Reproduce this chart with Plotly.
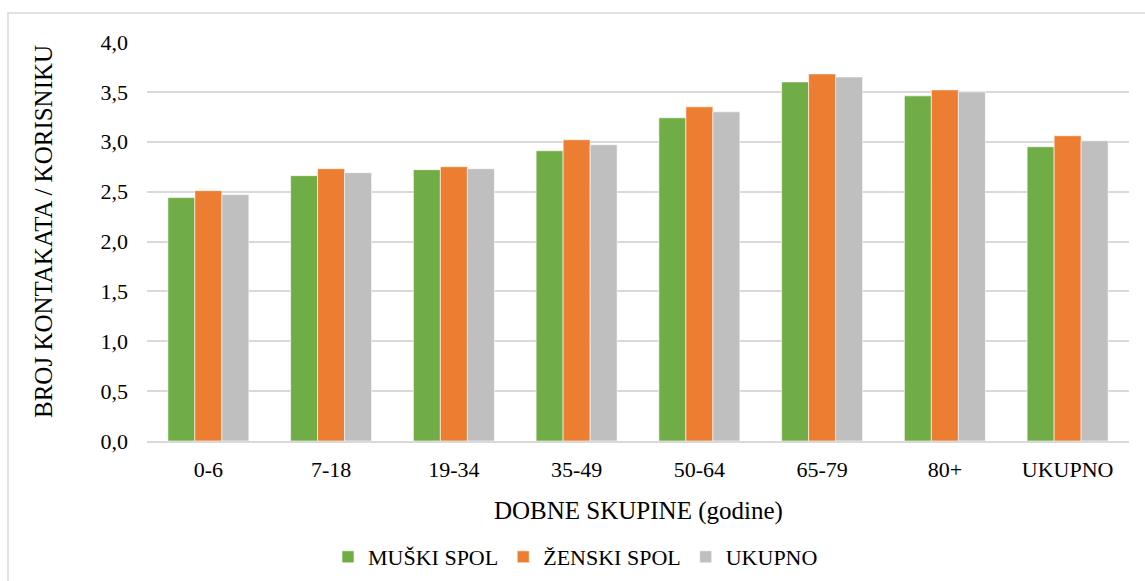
import plotly.graph_objects as go

categories = ["0-6", "7-18", "19-34", "35-49", "50-64", "65-79", "80+", "UKUPNO"]
muski = [2.44, 2.66, 2.72, 2.91, 3.24, 3.60, 3.46, 2.95]
zenski = [2.51, 2.73, 2.75, 3.02, 3.35, 3.68, 3.52, 3.06]
ukupno = [2.47, 2.69, 2.73, 2.97, 3.30, 3.65, 3.50, 3.01]
series_names = ["MUŠKI SPOL", "ŽENSKI SPOL", "UKUPNO"]
colors = ["#70AD47", "#ED7D31", "#BFBFBF"]

FONT = "Liberation Serif"
W, H = 1145, 581
L, R, T, B = 147, 16, 42, 140
pw, ph = W - L - R, H - T - B

fig = go.Figure()
for name, vals, col in zip(series_names, [muski, zenski, ukupno], colors):
    fig.add_trace(go.Bar(x=categories, y=vals, name=name, marker_color=col,
                         marker_line_color="rgba(255,255,255,0.6)", marker_line_width=1))

fig.update_layout(
    width=W, height=H, autosize=False,
    margin=dict(l=L, r=R, t=T, b=B),
    paper_bgcolor="white", plot_bgcolor="white",
    barmode="group", bargap=0.34, bargroupgap=0,
    separators=", ",
    font=dict(family=FONT, size=22, color="#000000"),
    showlegend=True,
    legend=dict(orientation="h", xref="container", x=328 / W, xanchor="left",
                yref="container", y=1 - 557 / H, yanchor="middle",
                font=dict(family=FONT, size=22), itemwidth=30,
                traceorder="normal"),
    xaxis=dict(showline=True, linecolor="#D9D9D9", linewidth=1.5, showgrid=False,
               ticks="", tickfont=dict(family=FONT, size=22), ticklabelstandoff=8,
               automargin=False),
    yaxis=dict(range=[0, 4], dtick=0.5, tickformat=".1f", showgrid=True,
               gridcolor="#D9D9D9", gridwidth=1.5, zeroline=False, showline=False,
               ticks="", tickfont=dict(family=FONT, size=22), ticklabelstandoff=18,
               automargin=False),
    annotations=[
        dict(text="BROJ KONTAKATA / KORISNIKU", xref="paper", yref="paper",
             x=(43 - L) / pw, y=(H - B - 232) / ph, textangle=-90, showarrow=False,
             font=dict(family=FONT, size=25), xanchor="center", yanchor="middle"),
        dict(text="DOBNE SKUPINE (godine)", xref="paper", yref="paper",
             x=0.5, y=(H - B - 511) / ph, showarrow=False,
             font=dict(family=FONT, size=25), xanchor="center", yanchor="middle"),
    ],
    shapes=[
        dict(type="rect", xref="paper", yref="paper",
             x0=(8 - L) / pw, x1=(W + 20 - L) / pw,
             y0=(H - B - (H + 20)) / ph, y1=(H - B - 13) / ph,
             line=dict(color="#D9D9D9", width=1.5), fillcolor="rgba(0,0,0,0)", layer="below"),
    ],
)

post = (
    "var d=document.documentElement,b=document.body;"
    "d.style.margin='0';d.style.padding='0';d.style.overflow='hidden';"
    "b.style.margin='0';b.style.padding='0';b.style.overflow='hidden';"
)
fig.write_html("out.html", config={"displayModeBar": False}, post_script=post)
